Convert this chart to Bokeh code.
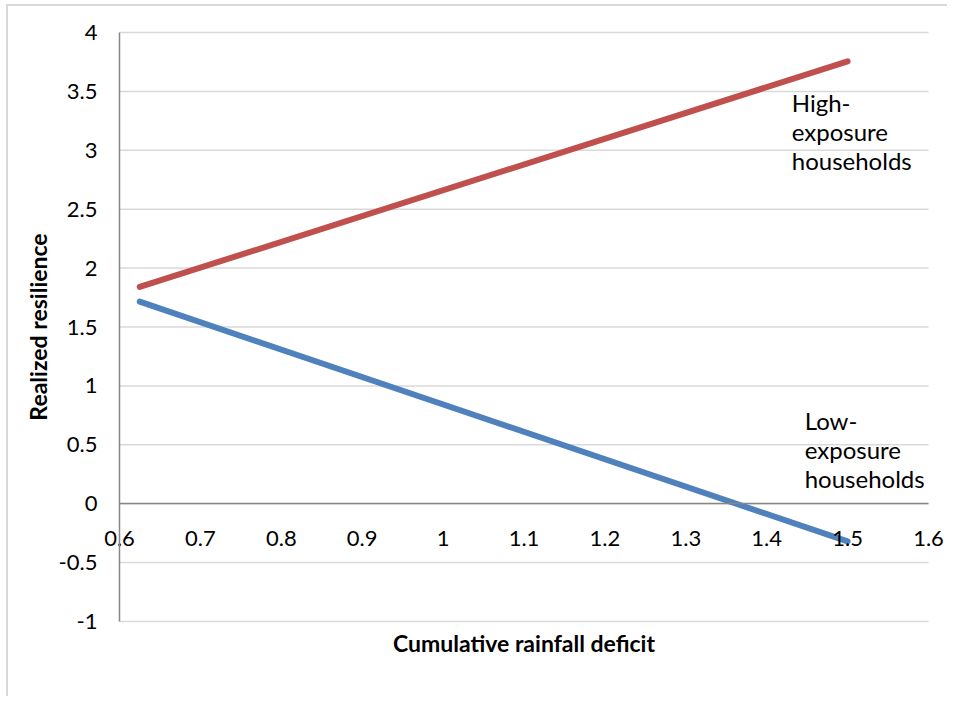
from bokeh.plotting import figure
from bokeh.models import FixedTicker, Range1d
from bokeh.core.properties import value
from bokeh.embed import file_html
from bokeh.resources import INLINE

# data
deficit = [0.625, 1.5]
high_exposure = [1.84, 3.755]
low_exposure = [1.715, -0.32]

x_ticks = [0.6, 0.7, 0.8, 0.9, 1.0, 1.1, 1.2, 1.3, 1.4, 1.5, 1.6]
x_tick_labels = ["0.6", "0.7", "0.8", "0.9", "1", "1.1", "1.2", "1.3", "1.4", "1.5", "1.6"]
y_ticks = [-1, -0.5, 0, 0.5, 1, 1.5, 2, 2.5, 3, 3.5, 4]
y_tick_labels = ["-1", "-0.5", "0", "0.5", "1", "1.5", "2", "2.5", "3", "3.5", "4"]

x_title = "Cumulative rainfall deficit"
y_title = "Realized resilience"
high_label = "High-\nexposure\nhouseholds"
low_label = "Low-\nexposure\nhouseholds"

FONT = "Lato"

# plotting area geometry (pixels per data unit); the frame is padded so that
# the axis labels drawn inside it are not clipped
PX_X = 809.0
PX_Y = 117.8
PAD_L, PAD_R, PAD_T, PAD_B = 110, 19, 18, 45
x0, x1 = x_ticks[0], x_ticks[-1]
y0, y1 = y_ticks[0], y_ticks[-1]

fw = int(round((x1 - x0) * PX_X)) + PAD_L + PAD_R
fh = int(round((y1 - y0) * PX_Y)) + PAD_T + PAD_B

p = figure(frame_width=fw, frame_height=fh, output_backend="svg", toolbar_location=None,
           x_range=Range1d(x0 - PAD_L / PX_X, x1 + PAD_R / PX_X),
           y_range=Range1d(y0 - PAD_B / PX_Y, y1 + PAD_T / PX_Y),
           min_border_left=1, min_border_top=8, min_border_right=0, min_border_bottom=30)
p.styles = {"border-left": "2px solid #d9d9d9", "border-top": "2px solid #d9d9d9",
            "margin-left": "6px", "margin-top": "4px"}
p.outline_line_color = None
p.background_fill_color = "white"
p.xgrid.grid_line_color = None
p.ygrid.grid_line_color = None

# horizontal gridlines over the data extent
p.segment(x0=[x0] * len(y_ticks), x1=[x1] * len(y_ticks), y0=y_ticks, y1=y_ticks,
          line_color="#d9d9d9", line_width=1.5)

# y axis at x = 0.6
ya = p.yaxis[0]
ya.fixed_location = x0
ya.bounds = (y0, y1)
ya.ticker = FixedTicker(ticks=y_ticks)
ya.major_label_overrides = {t: l for t, l in zip(y_ticks, y_tick_labels)}
ya.axis_line_color = "#868686"
ya.axis_line_width = 1.5
ya.major_tick_line_color = None
ya.minor_tick_line_color = None
ya.major_label_text_font = FONT
ya.major_label_text_font_size = "22px"
ya.major_label_text_color = "black"
ya.major_label_standoff = 16
ya.axis_label = y_title
ya.axis_label_text_font = FONT
ya.axis_label_text_font_style = "bold"
ya.axis_label_text_font_size = "23px"
ya.axis_label_text_color = "black"
ya.axis_label_standoff = 4

# x axis drawn along y = 0
xa = p.xaxis[0]
xa.fixed_location = 0
xa.bounds = (x0, x1)
xa.ticker = FixedTicker(ticks=x_ticks)
xa.major_label_overrides = {t: l for t, l in zip(x_ticks, x_tick_labels)}
xa.axis_line_color = "#868686"
xa.axis_line_width = 1.5
xa.major_tick_line_color = None
xa.minor_tick_line_color = None
xa.major_label_text_font = FONT
xa.major_label_text_font_size = "22px"
xa.major_label_text_color = "black"
xa.major_label_standoff = 21

# x axis title, centred under the data extent
p.text(x=[(x0 + x1) / 2], y=[y0], text=[x_title], text_font=value(FONT),
       text_font_size="23px", text_font_style="bold", text_color="black",
       text_align="center", text_baseline="middle", y_offset=21)

# lines
p.line(deficit, high_exposure, line_color="#C0504D", line_width=6, line_cap="round")
p.line(deficit, low_exposure, line_color="#4F81BD", line_width=6, line_cap="round")

# annotations
p.text(x=[1.431], y=[3.525], text=[high_label], text_font=value(FONT),
       text_font_size="24px", text_color="black", text_align="left",
       text_baseline="top", text_line_height=1.0)
p.text(x=[1.447], y=[0.827], text=[low_label], text_font=value(FONT),
       text_font_size="24px", text_color="black", text_align="left",
       text_baseline="top", text_line_height=1.0)

open("out.html", "w").write(file_html(p, INLINE))
